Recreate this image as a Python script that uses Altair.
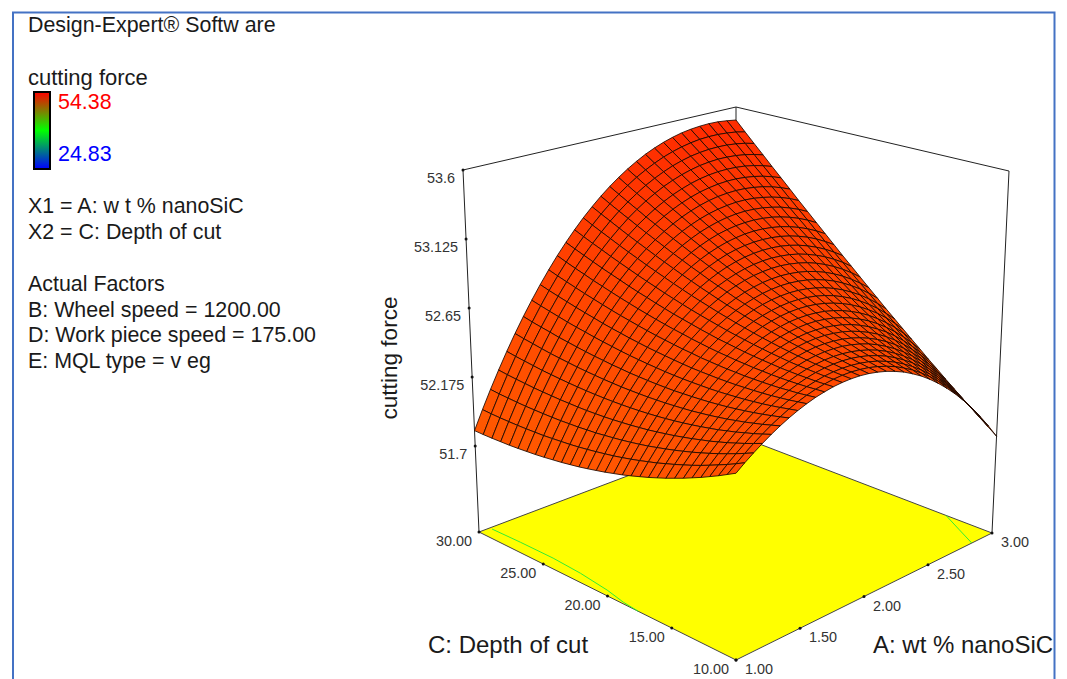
import altair as alt

A_vals = [1.0,1.0667,1.1333,1.2,1.2667,1.3333,1.4,1.4667,1.5333,1.6,1.6667,1.7333,1.8,1.8667,1.9333,2.0,2.0667,2.1333,2.2,2.2667,2.3333,2.4,2.4667,2.5333,2.6,2.6667,2.7333,2.8,2.8667,2.9333,3.0]
C_vals = [10.0,10.6667,11.3333,12.0,12.6667,13.3333,14.0,14.6667,15.3333,16.0,16.6667,17.3333,18.0,18.6667,19.3333,20.0,20.6667,21.3333,22.0,22.6667,23.3333,24.0,24.6667,25.3333,26.0,26.6667,27.3333,28.0,28.6667,29.3333,30.0]
# cutting force read from the surface: one row per A value, one column per C value
force = [
[52.198,52.171,52.144,52.119,52.094,52.071,52.048,52.027,52.006,51.987,51.968,51.951,51.934,51.918,51.904,51.890,51.878,51.866,51.855,51.846,51.837,51.830,51.823,51.817,51.813,51.809,51.806,51.805,51.804,51.804,51.806],
[52.240,52.215,52.191,52.169,52.147,52.126,52.106,52.088,52.070,52.054,52.037,52.023,52.009,51.996,51.984,51.973,51.964,51.955,51.947,51.940,51.934,51.930,51.926,51.922,51.921,51.920,51.920,51.921,51.923,51.926,51.931],
[52.279,52.257,52.236,52.216,52.197,52.179,52.162,52.146,52.131,52.117,52.104,52.092,52.080,52.070,52.061,52.053,52.046,52.040,52.034,52.031,52.027,52.026,52.024,52.024,52.025,52.027,52.029,52.033,52.038,52.043,52.051],
[52.316,52.297,52.278,52.261,52.244,52.229,52.214,52.202,52.189,52.178,52.167,52.158,52.149,52.141,52.135,52.129,52.125,52.121,52.118,52.117,52.116,52.117,52.119,52.121,52.125,52.129,52.134,52.141,52.148,52.156,52.166],
[52.351,52.334,52.318,52.304,52.289,52.277,52.264,52.254,52.244,52.235,52.227,52.220,52.214,52.209,52.205,52.202,52.200,52.199,52.199,52.200,52.202,52.205,52.209,52.214,52.220,52.227,52.234,52.244,52.254,52.264,52.277],
[52.383,52.369,52.355,52.343,52.331,52.321,52.311,52.303,52.295,52.289,52.283,52.279,52.276,52.273,52.272,52.271,52.272,52.273,52.275,52.279,52.283,52.289,52.295,52.302,52.311,52.320,52.330,52.342,52.355,52.368,52.383],
[52.412,52.400,52.389,52.379,52.370,52.362,52.355,52.349,52.344,52.340,52.337,52.335,52.334,52.333,52.334,52.336,52.339,52.343,52.347,52.354,52.360,52.369,52.377,52.387,52.398,52.410,52.422,52.437,52.451,52.466,52.484],
[52.438,52.429,52.420,52.412,52.405,52.400,52.395,52.392,52.389,52.387,52.386,52.387,52.388,52.390,52.393,52.397,52.403,52.409,52.416,52.424,52.433,52.444,52.455,52.467,52.481,52.494,52.509,52.526,52.543,52.561,52.580],
[52.461,52.454,52.447,52.442,52.437,52.434,52.432,52.431,52.430,52.431,52.432,52.435,52.438,52.442,52.448,52.455,52.463,52.471,52.480,52.491,52.502,52.515,52.528,52.542,52.559,52.575,52.592,52.611,52.630,52.650,52.672],
[52.481,52.476,52.471,52.469,52.466,52.465,52.465,52.466,52.467,52.471,52.474,52.479,52.485,52.491,52.500,52.508,52.518,52.529,52.540,52.553,52.567,52.582,52.597,52.614,52.632,52.651,52.670,52.691,52.713,52.735,52.759],
[52.496,52.494,52.492,52.491,52.491,52.492,52.494,52.498,52.501,52.507,52.512,52.520,52.527,52.536,52.546,52.557,52.570,52.582,52.596,52.611,52.627,52.644,52.662,52.681,52.701,52.722,52.743,52.767,52.790,52.815,52.842],
[52.509,52.508,52.508,52.510,52.512,52.515,52.519,52.525,52.531,52.538,52.546,52.556,52.566,52.576,52.589,52.602,52.617,52.632,52.647,52.665,52.683,52.703,52.722,52.743,52.766,52.789,52.812,52.838,52.864,52.891,52.919],
[52.517,52.519,52.521,52.525,52.529,52.534,52.540,52.548,52.556,52.566,52.576,52.588,52.600,52.613,52.628,52.643,52.659,52.676,52.694,52.714,52.734,52.756,52.778,52.801,52.826,52.851,52.877,52.905,52.932,52.961,52.992],
[52.521,52.525,52.529,52.535,52.541,52.549,52.557,52.567,52.577,52.589,52.601,52.615,52.630,52.645,52.662,52.679,52.698,52.717,52.737,52.759,52.781,52.805,52.829,52.854,52.881,52.908,52.936,52.966,52.996,53.027,53.061],
[52.521,52.527,52.533,52.541,52.549,52.559,52.570,52.582,52.594,52.608,52.622,52.639,52.655,52.672,52.691,52.710,52.731,52.753,52.775,52.799,52.823,52.849,52.876,52.903,52.932,52.961,52.991,53.023,53.056,53.089,53.124],
[52.516,52.524,52.532,52.543,52.553,52.565,52.578,52.592,52.606,52.622,52.639,52.657,52.675,52.695,52.716,52.737,52.761,52.784,52.808,52.835,52.861,52.889,52.917,52.947,52.978,53.009,53.042,53.076,53.110,53.146,53.183],
[52.506,52.517,52.527,52.540,52.552,52.566,52.581,52.597,52.614,52.632,52.651,52.671,52.691,52.713,52.736,52.760,52.785,52.810,52.837,52.865,52.894,52.924,52.955,52.986,53.019,53.053,53.087,53.124,53.160,53.198,53.237],
[52.492,52.504,52.517,52.532,52.546,52.563,52.579,52.598,52.616,52.637,52.657,52.680,52.702,52.726,52.752,52.777,52.805,52.832,52.861,52.891,52.922,52.954,52.987,53.021,53.056,53.092,53.128,53.167,53.205,53.245,53.286],
[52.472,52.487,52.502,52.519,52.535,52.554,52.573,52.593,52.614,52.637,52.659,52.684,52.709,52.734,52.762,52.790,52.820,52.849,52.880,52.913,52.945,52.980,53.015,53.050,53.088,53.126,53.164,53.205,53.246,53.288,53.331],
[52.448,52.465,52.481,52.500,52.519,52.540,52.561,52.584,52.606,52.631,52.656,52.683,52.710,52.738,52.768,52.797,52.829,52.861,52.894,52.929,52.964,53.001,53.037,53.075,53.115,53.155,53.196,53.239,53.281,53.325,53.371],
[52.417,52.436,52.456,52.477,52.498,52.521,52.544,52.569,52.594,52.621,52.648,52.677,52.706,52.736,52.768,52.800,52.834,52.868,52.903,52.940,52.977,53.016,53.055,53.095,53.137,53.179,53.222,53.267,53.312,53.358,53.407],
[52.382,52.403,52.424,52.447,52.471,52.496,52.521,52.548,52.576,52.605,52.634,52.665,52.697,52.729,52.763,52.797,52.834,52.870,52.907,52.946,52.986,53.027,53.068,53.110,53.155,53.199,53.244,53.291,53.339,53.387,53.437],
[52.340,52.363,52.387,52.412,52.438,52.465,52.493,52.522,52.552,52.583,52.615,52.648,52.682,52.716,52.753,52.789,52.828,52.866,52.906,52.947,52.989,53.032,53.076,53.120,53.167,53.213,53.261,53.310,53.360,53.410,53.463],
[52.292,52.318,52.344,52.372,52.399,52.429,52.459,52.491,52.523,52.556,52.590,52.626,52.662,52.699,52.737,52.776,52.817,52.858,52.900,52.943,52.987,53.033,53.079,53.126,53.174,53.223,53.273,53.325,53.377,53.429,53.484],
[52.238,52.266,52.295,52.325,52.355,52.387,52.419,52.453,52.487,52.524,52.560,52.598,52.636,52.675,52.716,52.757,52.801,52.844,52.888,52.934,52.980,53.028,53.076,53.126,53.177,53.228,53.280,53.334,53.388,53.443,53.501],
[52.178,52.209,52.239,52.272,52.304,52.339,52.373,52.410,52.447,52.485,52.524,52.564,52.605,52.646,52.690,52.733,52.779,52.824,52.871,52.919,52.968,53.019,53.069,53.121,53.174,53.228,53.282,53.339,53.395,53.453,53.512],
[52.111,52.144,52.177,52.212,52.247,52.284,52.321,52.360,52.399,52.440,52.481,52.524,52.567,52.611,52.657,52.703,52.751,52.799,52.848,52.899,52.950,53.003,53.056,53.110,53.166,53.222,53.279,53.338,53.397,53.457,53.519],
[52.038,52.073,52.109,52.146,52.184,52.223,52.263,52.304,52.346,52.389,52.433,52.479,52.524,52.571,52.619,52.668,52.718,52.769,52.820,52.874,52.927,52.983,53.039,53.095,53.154,53.212,53.272,53.333,53.395,53.457,53.522],
[51.957,51.995,52.033,52.074,52.114,52.156,52.198,52.242,52.286,52.332,52.379,52.427,52.475,52.524,52.575,52.626,52.679,52.733,52.787,52.843,52.899,52.957,53.015,53.075,53.136,53.197,53.259,53.323,53.387,53.452,53.520],
[51.869,51.910,51.951,51.994,52.037,52.082,52.126,52.173,52.220,52.269,52.318,52.369,52.419,52.471,52.525,52.579,52.635,52.691,52.747,52.806,52.865,52.926,52.987,53.049,53.112,53.176,53.241,53.308,53.375,53.443,53.512],
[51.774,51.818,51.862,51.907,51.953,52.000,52.048,52.098,52.147,52.199,52.251,52.304,52.358,52.412,52.469,52.526,52.584,52.643,52.702,52.764,52.826,52.889,52.953,53.017,53.084,53.151,53.218,53.288,53.357,53.428,53.501],
]

z_ticks = [53.6, 53.125, 52.65, 52.175, 51.7]
z_labels = ["53.6", "53.125", "52.65", "52.175", "51.7"]
c_ticks = [30.0, 25.0, 20.0, 15.0, 10.0]
a_ticks = [1.0, 1.5, 2.0, 2.5, 3.0]
contour1_a = [1.084, 1.091, 1.093, 1.079, 1.048, 1.014, 1.0]
contour1_c = [29.82, 27.7, 25.16, 22.9, 20.5, 18.9, 17.6]
contour2_a = [3.0, 2.92, 2.842]
contour2_c = [13.6, 11.8, 10.0]

N = len(A_vals) - 1
Z0, Z1 = 51.108, 53.6
# screen position of the eight corners of the box: [A end][C end][force end]
BOX = {(0,0,0):(736,660),(1,0,0):(992,533),(0,1,0):(479,532),(1,1,0):(736,435),
       (0,0,1):(736,233),(1,0,1):(1009,171),(0,1,1):(463,170),(1,1,1):(736,107)}

def proj(a, c, z):
    u, v, w = (a-1)/2, (c-10)/20, (z-Z0)/(Z1-Z0)
    x = y = 0.0
    for (p,q,r),(X_,Y_) in BOX.items():
        f = (u if p else 1-u)*(v if q else 1-v)*(w if r else 1-w)
        x += f*X_; y += f*Y_
    return [round(x,2), round(y,2)]

W, H = 1051, 671
prj = dict(type="identity", scale=1, translate=[-8,-8])
X = alt.X("x:Q", scale=alt.Scale(domain=[8, 8+W]), axis=None)
Y = alt.Y("y:Q", scale=alt.Scale(domain=[8+H, 8]), axis=None)

def line_feat(pts):
    return {"type":"Feature","geometry":{"type":"LineString","coordinates":pts},"properties":{}}

def lines(pts_list, color="#222222", width=1.0):
    return alt.Chart(alt.Data(values=[line_feat(p) for p in pts_list])).mark_geoshape(
        filled=False, stroke=color, strokeWidth=width).project(**prj)

def text(rows, size=21.4, color="#1a1a1a", align="left", angle=None, dx=0, dy=0):
    kw = dict(font="Liberation Sans", fontSize=size, color=color, align=align, baseline="middle", dx=dx, dy=dy)
    if angle is not None:
        kw["angle"] = angle
    return alt.Chart(alt.Data(values=[{"x":r[0],"y":r[1],"t":r[2]} for r in rows])).mark_text(**kw).encode(x=X, y=Y, text="t:N")

frame = lines([[[13,680],[13,12.5],[1054.5,12.5],[1054.5,680]]], color="#4472C4", width=2)

floor_c = [proj(1,10,Z0),proj(3,10,Z0),proj(3,30,Z0),proj(1,30,Z0),proj(1,10,Z0)]
floor = alt.Chart(alt.Data(values=[{"type":"Feature","geometry":{"type":"Polygon","coordinates":[floor_c]},"properties":{}}])).mark_geoshape(
    fill="#FFFF00", stroke="#444444", strokeWidth=1).project(**prj)

box = lines([
    [proj(1,30,Z0),proj(1,30,Z1),proj(3,30,Z1),proj(3,10,Z1),proj(3,10,Z0)],
    [proj(3,30,Z0),proj(3,30,Z1)],
])

cont = lines([[proj(a,c,Z0) for a,c in zip(contour1_a,contour1_c)],
              [proj(a,c,Z0) for a,c in zip(contour2_a,contour2_c)]], color="#33EE33", width=1)

cells = []
for s in range(2*N-2, -1, -1):
    for i in range(N):
        j = s - i
        if 0 <= j < N:
            ring = [proj(A_vals[i],C_vals[j],force[i][j]),proj(A_vals[i+1],C_vals[j],force[i+1][j]),
                    proj(A_vals[i+1],C_vals[j+1],force[i+1][j+1]),proj(A_vals[i],C_vals[j+1],force[i][j+1])]
            ring.append(ring[0])
            zm = (force[i][j]+force[i+1][j]+force[i+1][j+1]+force[i][j+1])/4
            cells.append({"type":"Feature","geometry":{"type":"Polygon","coordinates":[ring]},"properties":{"z":round(zm,3)}})
surface = alt.Chart(alt.Data(values=cells)).mark_geoshape(stroke="#1c0800", strokeWidth=0.85).encode(
    color=alt.Color("properties.z:Q", scale=alt.Scale(domain=[51.7,53.6], range=["#FF5A00","#FF2800"]), legend=None)).project(**prj)

tick_pts = [proj(1,30,z) for z in z_ticks] + [proj(1,c,Z0) for c in c_ticks] + [proj(a,10,Z0) for a in a_ticks]
ticks = alt.Chart(alt.Data(values=[{"x":p[0],"y":p[1]} for p in tick_pts])).mark_circle(size=9, color="#111111", opacity=1).encode(x=X, y=Y)

zl = text([[proj(1,30,z)[0], proj(1,30,z)[1], l] for z,l in zip(z_ticks,z_labels)], size=14.4, color="#333333", align="right", dx=-8, dy=9)
cl = text([[proj(1,c,Z0)[0], proj(1,c,Z0)[1], f"{c:.2f}"] for c in c_ticks], size=14.4, color="#333333", align="right", dx=-7, dy=10)
al = text([[proj(a,10,Z0)[0], proj(a,10,Z0)[1], f"{a:.2f}"] for a in a_ticks], size=14.4, color="#333333", align="left", dx=9, dy=10)

left = text([[28,26,"Design-Expert® Softw are"],[28,207,"X1 = A: w t % nanoSiC"],
             [28,233,"X2 = C: Depth of cut"],[28,285,"Actual Factors"],[28,311,"B: Wheel speed = 1200.00"],
             [28,336,"D: Work piece speed = 175.00"],[28,362,"E: MQL type = v eg"]])
resp = text([[28,78,"cutting force"]], size=22)
hi = text([[58,103,"54.38"]], color="#FF0000")
lo = text([[58,155,"24.83"]], color="#0000FF")
titles = text([[428,646,"C: Depth of cut"],[873,646,"A: wt % nanoSiC"]], size=24)
ztitle = text([[390,358,"cutting force"]], size=22.6, align="center", angle=270)

grad = alt.LinearGradient(gradient="linear", x1=0, x2=0, y1=0, y2=1, stops=[
    alt.GradientStop(offset=0,color="#FF0000"), alt.GradientStop(offset=0.5,color="#00FF00"), alt.GradientStop(offset=1,color="#0000FF")])
bar = alt.Chart(alt.Data(values=[{"x":34,"x2":50,"y":92,"y2":169}])).mark_rect(color=grad, stroke="#000000", strokeWidth=2).encode(
    x=X, x2="x2:Q", y=Y, y2="y2:Q")

chart = alt.layer(frame, floor, cont, box, surface, ticks, zl, cl, al, left, resp, hi, lo, titles, ztitle, bar).properties(
    width=W, height=H, padding=0, autosize=alt.AutoSizeParams(type="none"),
    background="white").configure_view(stroke=None)
chart.save("out.html", embed_options={"renderer":"svg","actions":False})
